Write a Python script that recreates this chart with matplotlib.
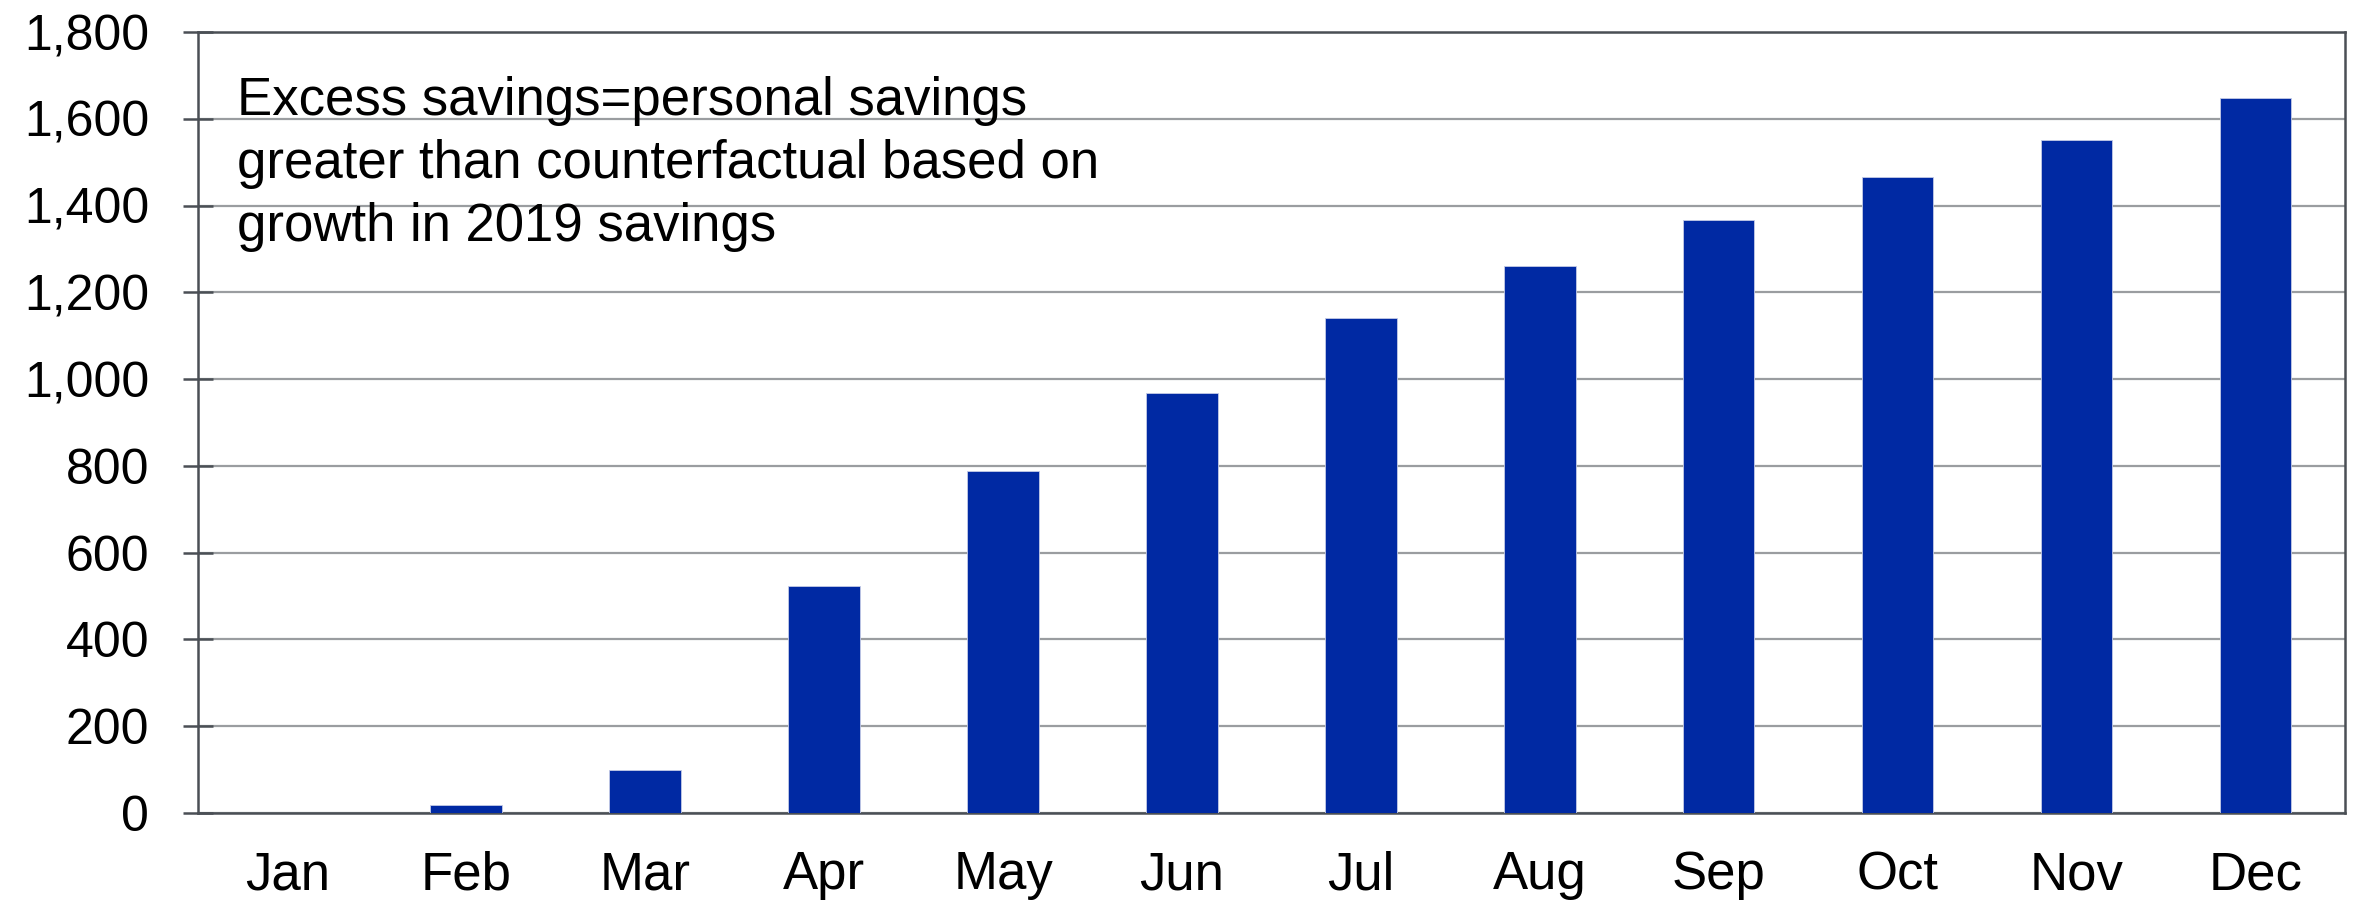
import numpy as np
import matplotlib
matplotlib.use("Agg")
import matplotlib.pyplot as plt
from matplotlib.ticker import FuncFormatter

months = ["Jan", "Feb", "Mar", "Apr", "May", "Jun",
          "Jul", "Aug", "Sep", "Oct", "Nov", "Dec"]
excess_savings = [0, 18, 100, 523, 789, 969, 1142, 1260, 1367, 1465, 1550, 1647]
y_ticks = [0, 200, 400, 600, 800, 1000, 1200, 1400, 1600, 1800]
note = ("Excess savings=personal savings\n"
        "greater than counterfactual based on\n"
        "growth in 2019 savings")

plt.rcParams["font.family"] = ["Liberation Sans", "DejaVu Sans"]

BAR = "#0029a3"
GRID = "#9a9da0"
SPINE = "#4a4f55"

fig = plt.figure(figsize=(23.56, 9.05), dpi=100)
ax = fig.add_axes([0.084, 0.1017, 0.9113, 0.8629])

x = np.arange(len(months))
ax.bar(x, excess_savings, width=0.4, color=BAR, edgecolor="#c4cbe6",
       linewidth=0.6, zorder=3)

ax.set_xlim(-0.5, len(months) - 0.5)
ax.set_ylim(0, 1800)
ax.set_yticks(y_ticks)
ax.yaxis.set_major_formatter(FuncFormatter(lambda v, p: f"{int(v):,}"))
ax.set_xticks(x)
ax.set_xticklabels(months)

ax.grid(axis="y", color=GRID, linewidth=1.6, zorder=0)
for s in ax.spines.values():
    s.set_color(SPINE)
    s.set_linewidth(1.8)

ax.tick_params(axis="y", direction="inout", length=22, width=1.8,
               color=SPINE, labelsize=36, pad=24)
ax.tick_params(axis="x", length=0, labelsize=38, pad=27)

ax.text(0.018, 0.944, note, transform=ax.transAxes, ha="left", va="top",
        fontsize=38, linespacing=1.34, zorder=4)

fig.savefig("out.png", dpi=100)
